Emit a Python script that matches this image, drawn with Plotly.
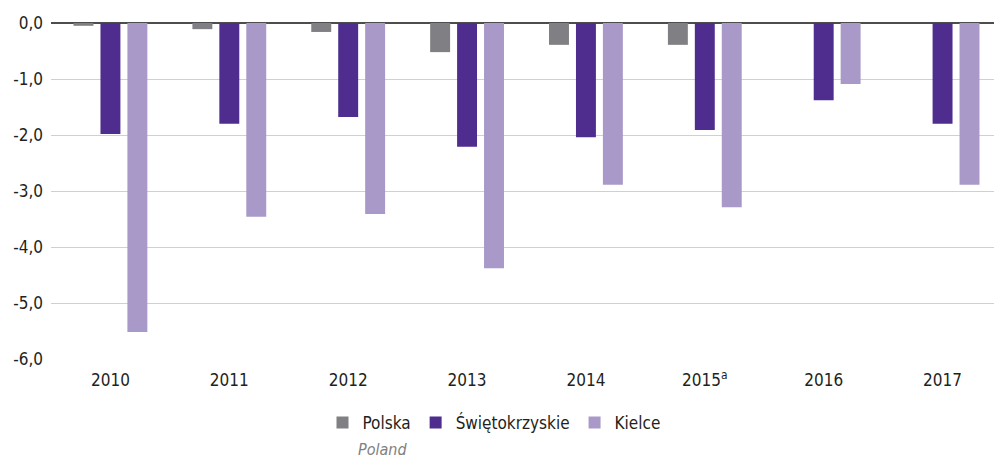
import plotly.graph_objects as go

years = ["2010", "2011", "2012", "2013", "2014", "2015<sup>a</sup>", "2016", "2017"]
polska = [-0.05, -0.11, -0.16, -0.52, -0.39, -0.39, 0.0, 0.0]
swietokrzyskie = [-1.98, -1.80, -1.68, -2.21, -2.04, -1.91, -1.38, -1.80]
kielce = [-5.52, -3.46, -3.41, -4.38, -2.89, -3.29, -1.09, -2.89]
yticks = [0, -1, -2, -3, -4, -5, -6]
yticklabels = ["0,0", "-1,0", "-2,0", "-3,0", "-4,0", "-5,0", "-6,0"]

FONT = "Liberation Sans Narrow, DejaVu Sans Condensed, Roboto, sans-serif"

# page body has an 8px margin; compensate
OFF = 8
W, H = 1002 - OFF, 458 - OFF
L, T, B = 51 - OFF, 23 - OFF, 458 - 359

fig = go.Figure()
fig.add_bar(x=years, y=polska, name="Polska", marker=dict(color="#808084", line=dict(width=0)))
fig.add_bar(x=years, y=swietokrzyskie, name="Świętokrzyskie", marker=dict(color="#4f2d8f", line=dict(width=0)))
fig.add_bar(x=years, y=kielce, name="Kielce", marker=dict(color="#a899c8", line=dict(width=0)))

plot_h = H - T - B
plot_w = W - L

fig.update_layout(
    width=W, height=H,
    margin=dict(l=L, r=0, t=T, b=B, autoexpand=False),
    paper_bgcolor="white", plot_bgcolor="white",
    barmode="group", bargap=0.32, bargroupgap=0.26,
    font=dict(family=FONT, size=16, color="#231f20"),
    showlegend=True,
    legend=dict(orientation="h", x=(494 - 51) / plot_w, xanchor="center",
                y=-(423 - 359) / plot_h, yanchor="middle",
                font=dict(size=17, color="#231f20"), itemwidth=30,
                traceorder="normal"),
    xaxis=dict(showgrid=False, showline=False, ticks="", tickfont=dict(size=17),
               ticklabelstandoff=9),
    yaxis=dict(range=[-6.0, 0.0], tickvals=yticks, ticktext=yticklabels,
               showgrid=True, gridcolor="#d0d0d0", gridwidth=1,
               zeroline=True, zerolinecolor="#4d4d4d", zerolinewidth=2,
               tickfont=dict(size=17), ticks="", ticklabelstandoff=7),
    annotations=[dict(text="<i>Poland</i>", x=(382 - 51) / plot_w, y=-(449 - 359) / plot_h,
                      xref="paper", yref="paper", xanchor="center", yanchor="middle",
                      showarrow=False, font=dict(size=16, color="#808080"))],
)

fig.write_html("out.html")
